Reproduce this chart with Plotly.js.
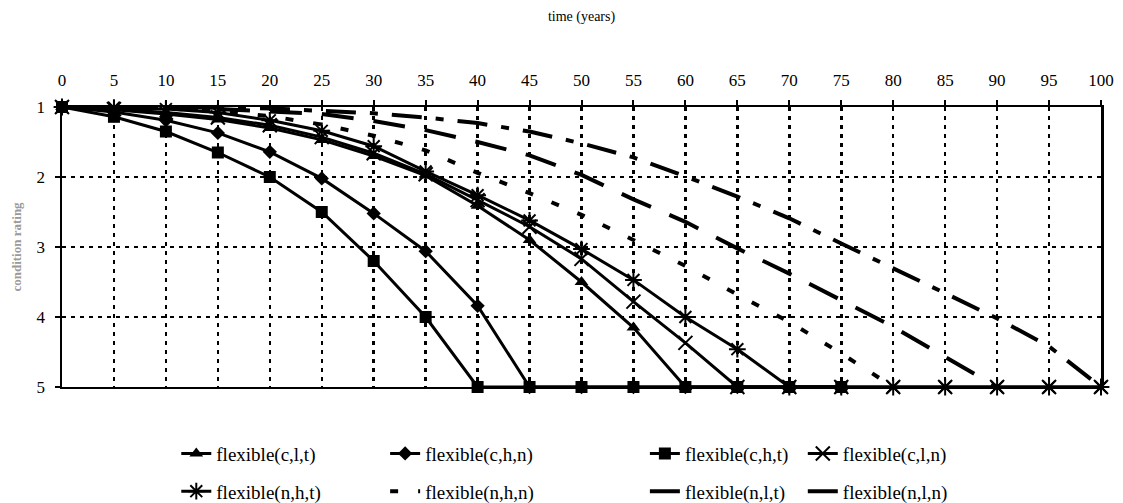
<!DOCTYPE html>
<html>
<head>
<meta charset="utf-8">
<script src="https://cdn.plot.ly/plotly-3.0.1.min.js"></script>
<style>html,body{margin:0;padding:0;background:#fff;}#chart{width:1123px;height:503px;}</style>
</head>
<body>
<div id="chart"></div>
<script>
// time in years (x axis)
const years = [0,5,10,15,20,25,30,35,40,45,50,55,60,65,70,75,80,85,90,95,100];
const xTickVals = [0,5,10,15,20,25,30,35,40,45,50,55,60,65,70,75,80,85,90,95,100];
const yTickVals = [1,2,3,4,5];

// condition rating per series
const flex_c_l_t = [1,1.04,1.10,1.18,1.30,1.47,1.70,1.98,2.41,2.90,3.50,4.15,5,5,5,5];
const flex_c_h_n = [1,1.07,1.19,1.37,1.64,2.02,2.52,3.06,3.84,5,5,5,5,5,5,5];
const flex_c_h_t = [1,1.14,1.35,1.65,2.00,2.50,3.20,4.00,5,5,5,5,5,5,5,5];
const flex_c_l_n = [1,1.03,1.08,1.15,1.26,1.43,1.66,1.96,2.33,2.71,3.17,3.78,4.37,5,5,5,5,5,5,5,5];
const flex_n_h_t = [1,1.01,1.03,1.08,1.19,1.34,1.56,1.92,2.26,2.62,3.03,3.47,4.00,4.46,5,5,5,5,5,5,5];
const flex_n_h_n = [1,1.005,1.02,1.06,1.13,1.25,1.41,1.62,1.94,2.23,2.54,2.90,3.27,3.68,4.07,4.52,5];
const flex_n_l_t = [1,1,1.01,1.03,1.06,1.10,1.20,1.33,1.50,1.69,1.97,2.32,2.64,3.02,3.38,3.76,4.14,4.57,5];
const flex_n_l_n = [1,1,1,1.01,1.02,1.05,1.09,1.15,1.23,1.35,1.52,1.72,1.99,2.28,2.59,2.95,3.30,3.66,4.02,4.42,5];

const seriesNames = ['flexible(c,l,t)','flexible(c,h,n)','flexible(c,h,t)','flexible(c,l,n)',
                     'flexible(n,h,t)','flexible(n,h,n)','flexible(n,l,t)','flexible(n,l,n)'];

const FONT = 'Liberation Serif';

function tr(vals, name, legend, rank, opts) {
  return Object.assign({
    type: 'scatter',
    x: years.slice(0, vals.length),
    y: vals,
    name: name,
    legend: legend,
    legendgroup: name,
    legendrank: rank,
    cliponaxis: false,
    line: {color: '#000', width: 3}
  }, opts);
}

const data = [
  tr(flex_n_l_n, seriesNames[7], 'legend4', 2, {mode: 'lines', line: {color: '#000', width: 4, dash: '30px,14px,8px,14px'}}),
  tr(flex_n_l_t, seriesNames[6], 'legend3', 2, {mode: 'lines', line: {color: '#000', width: 4, dash: '32px,20px'}}),
  tr(flex_n_h_n, seriesNames[5], 'legend2', 2, {mode: 'lines', line: {color: '#000', width: 4, dash: '8px,20px'}}),
  tr(flex_c_l_t, seriesNames[0], 'legend', 1, {mode: 'lines+markers', marker: {symbol: 'triangle-up', size: 12, color: '#000'}}),
  tr(flex_c_h_n, seriesNames[1], 'legend2', 1, {mode: 'lines+markers', marker: {symbol: 'diamond', size: 11, color: '#000'}}),
  tr(flex_c_l_n, seriesNames[3], 'legend4', 1, {mode: 'lines+markers', marker: {symbol: 'x-thin-open', size: 14, color: '#000', line: {color: '#000', width: 2}}}),
  tr(flex_n_h_t, seriesNames[4], 'legend', 2, {mode: 'lines+markers', marker: {symbol: 'asterisk-open', size: 14, color: '#000', line: {color: '#000', width: 2}}}),
  tr(flex_c_h_t, seriesNames[2], 'legend3', 1, {mode: 'lines+markers', marker: {symbol: 'square', size: 12, color: '#000'}})
];

const legFont = {family: FONT, size: 19, color: '#000'};
function leg(x) {
  return {x: x, xanchor: 'left', y: -0.17, yanchor: 'top', orientation: 'v',
          font: legFont, bgcolor: 'rgba(0,0,0,0)', borderwidth: 0,
          traceorder: 'grouped', tracegroupgap: 10, itemclick: false};
}

const layout = {
  width: 1123, height: 503,
  margin: {l: 62, r: 22, t: 107, b: 116, autoexpand: false},
  paper_bgcolor: '#fff', plot_bgcolor: '#fff',
  font: {family: FONT, color: '#000', size: 17},
  showlegend: true,
  xaxis: {
    side: 'top', range: [0, 100], tickvals: xTickVals, ticktext: xTickVals.map(String),
    ticks: 'outside', ticklen: 5, tickwidth: 2, tickcolor: '#000', ticklabelstandoff: 7,
    showline: true, linecolor: '#000', linewidth: 2, mirror: true,
    showgrid: true, gridcolor: '#000', gridwidth: 2.5, griddash: '4px,5px',
    zeroline: false, tickfont: {family: FONT, size: 17, color: '#000'},
    title: {text: 'time (years)', font: {family: FONT, size: 14, color: '#000'}, standoff: 46}
  },
  yaxis: {
    range: [5, 1], tickvals: yTickVals, ticktext: yTickVals.map(String),
    ticks: 'outside', ticklen: 5, tickwidth: 2, tickcolor: '#000', ticklabelstandoff: 6,
    showline: true, linecolor: '#000', linewidth: 2.5, mirror: true,
    showgrid: true, gridcolor: '#000', gridwidth: 2.5, griddash: '4px,5px',
    zeroline: false, tickfont: {family: FONT, size: 17, color: '#000'},
    title: {text: '<b>condition rating</b>', font: {family: FONT, size: 13, color: '#9a9a9a'}, standoff: 12}
  },
  legend: leg(0.11),
  legend2: leg(0.311),
  legend3: leg(0.561),
  legend4: leg(0.713)
};

Plotly.newPlot('chart', data, layout, {staticPlot: true, displayModeBar: false});
</script>
</body>
</html>
